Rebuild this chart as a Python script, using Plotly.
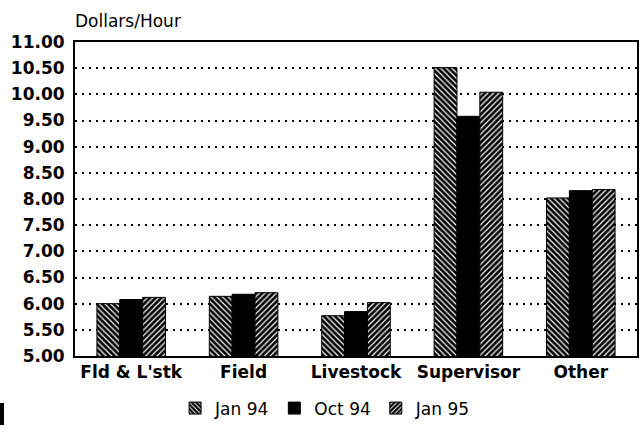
import plotly.graph_objects as go

# wage rates, dollars per hour
categories = ["Fld & L'stk", "Field", "Livestock", "Supervisor", "Other"]
jan94 = [6.00, 6.14, 5.77, 10.51, 8.02]
oct94 = [6.08, 6.18, 5.85, 9.58, 8.16]
jan95 = [6.12, 6.21, 6.02, 10.04, 8.18]
yticks = [5.0 + 0.5 * i for i in range(13)]
ytick_text = ["%.2f" % v for v in yticks]

fig = go.Figure()

fig.add_trace(go.Bar(
    x=categories, y=jan94, name="Jan 94",
    marker=dict(color="black", line=dict(color="black", width=1),
                pattern=dict(shape="\\", bgcolor="black", fgcolor="white",
                             size=4, solidity=0.3, fillmode="replace")),
))
fig.add_trace(go.Bar(
    x=categories, y=oct94, name="Oct 94",
    marker=dict(color="black", line=dict(color="black", width=1)),
))
fig.add_trace(go.Bar(
    x=categories, y=jan95, name="Jan 95",
    marker=dict(color="black", line=dict(color="black", width=1),
                pattern=dict(shape="/", bgcolor="black", fgcolor="white",
                             size=4, solidity=0.3, fillmode="replace")),
))

fig.update_layout(
    width=644, height=440,
    margin=dict(l=75, r=7, t=42, b=84),
    paper_bgcolor="white", plot_bgcolor="white",
    barmode="group", bargap=0.39, bargroupgap=0,
    font=dict(family="Liberation Sans", color="black", size=14),
    legend=dict(orientation="h", x=0.445, xanchor="center", y=-0.11, yanchor="top",
                font=dict(family="DejaVu Sans", size=17), itemwidth=30,
                traceorder="normal", tracegroupgap=0),
    annotations=[dict(text="Dollars/Hour", xref="paper", yref="paper",
                      x=-0.004, y=1.03, xanchor="left", yanchor="bottom",
                      showarrow=False, font=dict(family="DejaVu Sans", size=17))],
    shapes=[dict(type="rect", xref="paper", yref="paper",
                 x0=-75 / 562, x1=-71 / 562, y0=-47 / 314, y1=-69 / 314,
                 fillcolor="black", line=dict(width=0))],
)

fig.update_yaxes(
    range=[5, 11], tickvals=yticks, ticktext=ytick_text,
    tickfont=dict(family="DejaVu Sans", size=17, weight="bold"),
    showgrid=True, gridcolor="black", griddash="2px,5px", gridwidth=1.5,
    showline=True, linecolor="black", linewidth=2, mirror=True,
    ticks="", zeroline=False, automargin=False, ticklabelstandoff=5,
)
fig.update_xaxes(
    tickfont=dict(family="DejaVu Sans", size=17, weight="bold"),
    showline=True, linecolor="black", linewidth=2, mirror=True,
    ticks="", automargin=False,
)

# page body has a default 8px margin; drop it so the figure fills the window
fig.write_html("out.html", config={"displayModeBar": False},
               post_script="document.body.style.margin='0';")
